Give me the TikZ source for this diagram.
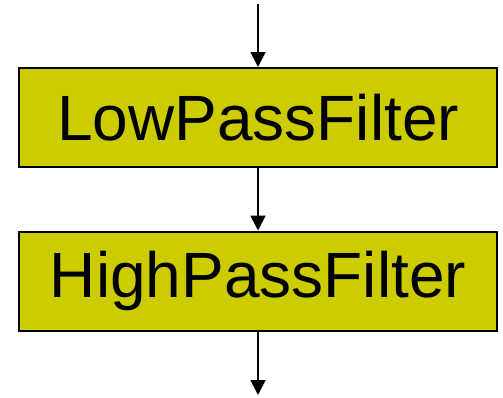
\documentclass[tikz,border=0pt]{standalone}
\usepackage{fontspec}
\setmainfont{Liberation Sans}
\usetikzlibrary{arrows.meta}
\definecolor{filterfill}{HTML}{CCCC00}
\tikzset{
  filterbox/.style={draw=black, line width=2pt, fill=filterfill,
    minimum width=478pt, minimum height=99pt, inner sep=0pt,
    font=\fontsize{64}{64}\selectfont},
  flow/.style={draw=black, line width=1.8pt, -{Triangle[width=15pt,length=15pt]}}
}
\begin{document}
\begin{tikzpicture}[x=1pt,y=1pt]
  \useasboundingbox (0,0) rectangle (503,-397);
  \node[filterbox] (low) at (258,-117.5) {LowPassFilter};
  \node[filterbox] (high) at (258,-281) {HighPassFilter};
  \coordinate (in) at (258,-4);
  \coordinate (out) at (258,-395);
  \draw[flow] (in) -- (low.north);
  \draw[flow] (low.south) -- (high.north);
  \draw[flow] (high.south) -- (out);
\end{tikzpicture}
\end{document}
